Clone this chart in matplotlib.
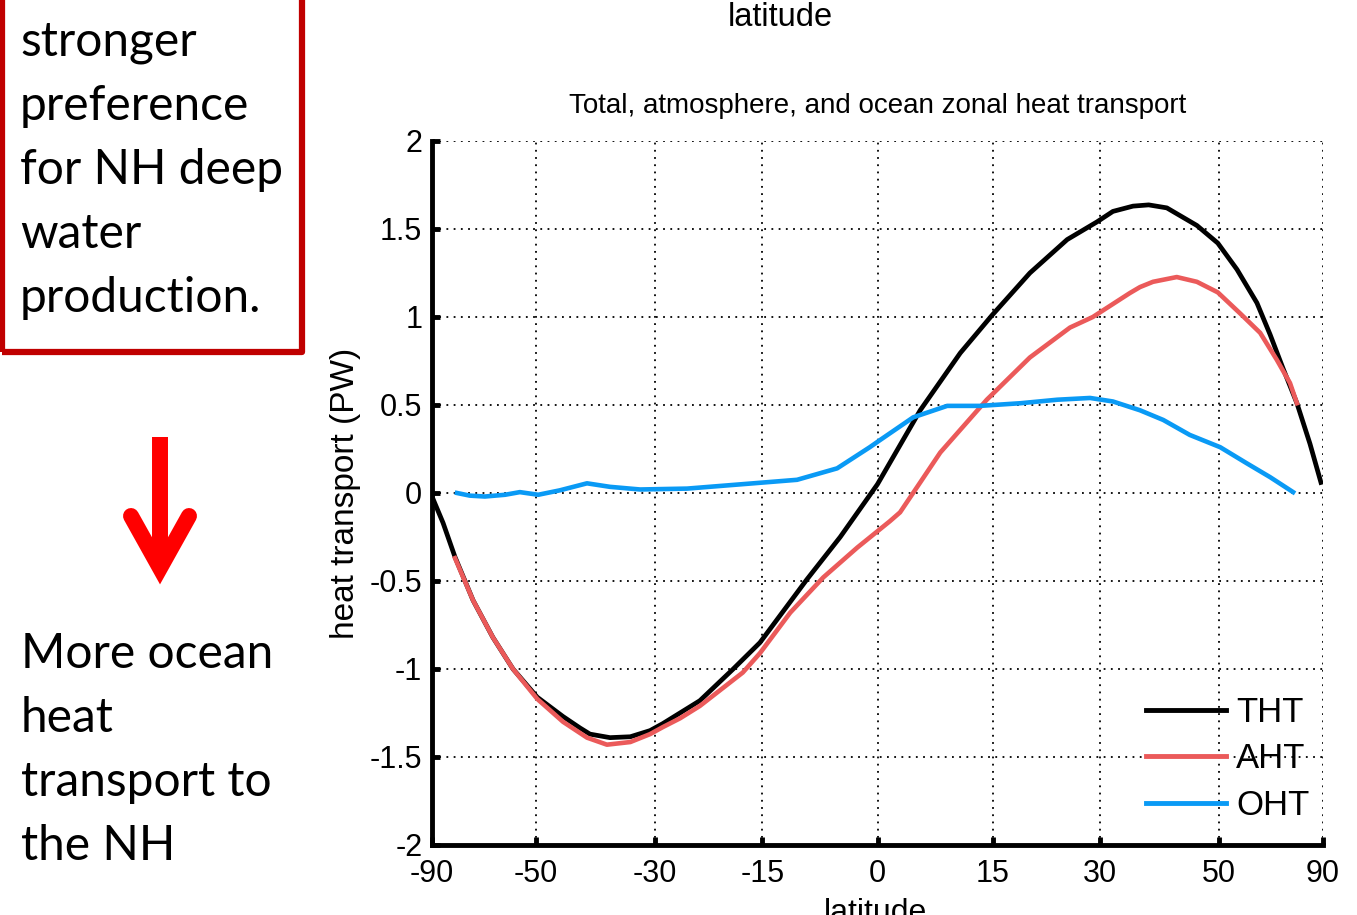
import numpy as np
import matplotlib
matplotlib.use("Agg")
import matplotlib.pyplot as plt
from matplotlib.lines import Line2D
from matplotlib.patches import Rectangle

# ---------- data ----------
lat_tht = [-90, -77.2, -71.5, -65.2, -59.7, -54.9, -49.8, -44.9, -41.9, -40.2,
           -36.9, -33.7, -30.7, -28.8, -23.5, -18.9, -15.3, -9.1, -4.8, 0,
           5.5, 10.7, 14.9, 20.0, 25.2, 29.5, 31.9, 35.0, 37.5, 40.5, 45.8,
           49.8, 53.8, 58.4, 61.8, 65.5, 70.3, 76.1, 84.5]
tht = [-0.02, -0.17, -0.364, -0.61, -0.82, -1.0, -1.16, -1.27, -1.335, -1.37,
       -1.39, -1.385, -1.35, -1.31, -1.18, -1.0, -0.85, -0.49, -0.25, 0.05,
       0.47, 0.795, 1.01, 1.25, 1.44, 1.54, 1.6, 1.63, 1.637, 1.62, 1.52,
       1.42, 1.27, 1.08, 0.90, 0.71, 0.51, 0.28, 0.06]

lat_aht = [-71.5, -65.2, -59.7, -54.9, -49.8, -44.9, -40.7, -37.4, -33.7, -30.7,
           -28.8, -26.3, -23.5, -17.6, -15.3, -11.3, -7.0, -2.6, 1.6, 2.9,
           5.5, 8.1, 14.2, 20.0, 25.6, 28.9, 34.5, 36.1, 38.2, 42.2, 45.8,
           49.8, 54.5, 59.2, 63.7, 67.8, 70.3]
aht = [-0.37, -0.61, -0.82, -1.0, -1.17, -1.30, -1.39, -1.43, -1.415, -1.37,
       -1.33, -1.28, -1.21, -1.02, -0.91, -0.68, -0.48, -0.31, -0.16, -0.11,
       0.06, 0.23, 0.53, 0.77, 0.94, 1.0, 1.136, 1.17, 1.20, 1.227, 1.20,
       1.14, 1.02, 0.91, 0.756, 0.625, 0.51]

lat_oht = [-70.7, -66.2, -61.8, -56.7, -53.4, -49.6, -45.5, -40.7, -36.9, -32.2,
           -25.3, -16.2, -10.4, -5.2, -1.0, 0.3, 4.6, 9.0, 13.3, 18.7, 23.8,
           28.5, 31.9, 36.1, 39.9, 44.5, 50.3, 55.9, 61.8, 68.9]
oht = [0.0, -0.015, -0.02, -0.01, 0.005, -0.01, 0.015, 0.055, 0.035, 0.02,
       0.025, 0.055, 0.075, 0.14, 0.26, 0.30, 0.43, 0.495, 0.495, 0.51, 0.53,
       0.54, 0.52, 0.47, 0.415, 0.33, 0.26, 0.17, 0.09, 0.005]

xticks = [-90, -50, -30, -15, 0, 15, 30, 50, 90]
yticks = [-2, -1.5, -1, -0.5, 0, 0.5, 1, 1.5, 2]
ytick_labels = ["-2", "-1.5", "-1", "-0.5", "0", "0.5", "1", "1.5", "2"]

box_lines = ["stronger", "preference", "for NH deep", "water", "production."]
bottom_lines = ["More ocean", "heat", "transport to", "the NH"]

# ---------- figure ----------
plt.rcParams["font.family"] = ["Liberation Sans Narrow", "Liberation Sans"]

W, H = 1357, 915
fig = plt.figure(figsize=(W / 100, H / 100), dpi=100)


def fx(px):
    return px / W


def fy(py):
    return 1 - py / H


ax = fig.add_axes([fx(432), fy(845), (1323 - 432) / W, (845 - 141) / H])
# latitude axis is linear in sin(lat)
ax.set_xscale("function", functions=(
    lambda x: np.sin(np.deg2rad(x)),
    lambda s: np.rad2deg(np.arcsin(np.clip(s, -1, 1)))))

ax.plot(lat_tht, tht, color="black", lw=3.4, label="THT", zorder=3,
        solid_joinstyle="round")
ax.plot(lat_aht, aht, color="#EB5A5A", lw=3.3, label="AHT", zorder=3,
        solid_joinstyle="round")
ax.plot(lat_oht, oht, color="#0A9AF5", lw=3.3, label="OHT", zorder=3,
        solid_joinstyle="round")

ax.set_xlim(-90, 90)
ax.set_ylim(-2, 2)
ax.set_xticks(xticks)
ax.set_xticklabels([str(t) for t in xticks])
ax.set_yticks(yticks)
ax.set_yticklabels(ytick_labels)
ax.minorticks_off()

ax.grid(True, color="black", linestyle=(0, (1, 3)), linewidth=1.3)
for s in ["top", "right"]:
    ax.spines[s].set_visible(False)
for s in ["left", "bottom"]:
    ax.spines[s].set_linewidth(3.5)
ax.tick_params(direction="in", length=6, width=3.5, labelsize=22)
ax.tick_params(axis="x", pad=10)
ax.tick_params(axis="y", pad=7)

ax.set_title("Total, atmosphere, and ocean zonal heat transport",
             fontsize=20, pad=20)
ax.set_ylabel("heat transport (PW)", fontsize=24, labelpad=6)

leg = ax.legend(loc="lower right", bbox_to_anchor=(0.985, 0.033), frameon=False,
                fontsize=25, handlelength=2.3, handletextpad=0.3,
                labelspacing=0.39, borderpad=0, borderaxespad=0)
for h in leg.legend_handles:
    h.set_linewidth(3.5)

# cut-off labels from the slide
fig.text(fx(780), fy(18), "latitude", fontsize=23.5, ha="center", va="center")
fig.text(fx(875), fy(898), "latitude", fontsize=23, ha="center", va="top")

# ---------- slide annotations ----------
box = Rectangle((fx(2), fy(352)), fx(300), 400 / H, transform=fig.transFigure,
                fill=False, edgecolor="#C00000", lw=4.5, joinstyle="round")
fig.add_artist(box)

for i, t in enumerate(box_lines):
    fig.text(fx(20), fy(56 + 64 * i), t, family="Lato", fontsize=34.5,
             ha="left", va="baseline")
for i, t in enumerate(bottom_lines):
    fig.text(fx(21), fy(668 + 64 * i), t, family="Lato", fontsize=34.5,
             ha="left", va="baseline")

fig.add_artist(Line2D([fx(160), fx(160)], [fy(437), fy(565)], color="red",
                      lw=11.5, solid_capstyle="butt"))
fig.add_artist(Line2D([fx(131), fx(160), fx(189)], [fy(516), fy(568), fy(516)],
                      color="red", lw=11.5, solid_capstyle="round",
                      solid_joinstyle="miter"))

fig.savefig("out.png", dpi=100)
